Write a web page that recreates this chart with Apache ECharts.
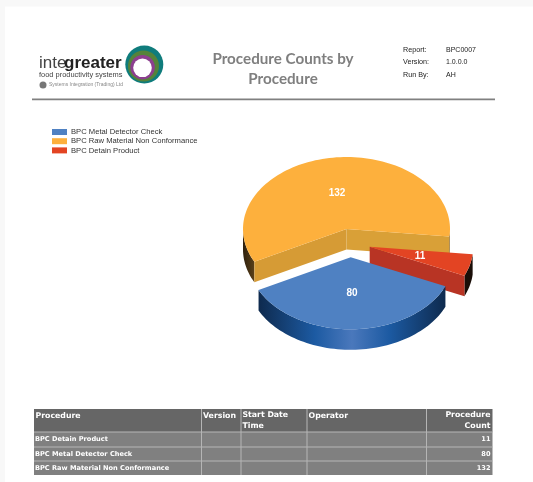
<!DOCTYPE html>
<html>
<head>
<meta charset="utf-8">
<style>html,body{margin:0;padding:0;background:#fff}#c{width:533px;height:482px;filter:blur(0.3px)}</style>
<script src="https://cdn.jsdelivr.net/npm/echarts@6/dist/echarts.min.js"></script>
</head>
<body>
<div id="c"></div>
<script>
const categories = ['BPC Metal Detector Check', 'BPC Raw Material Non Conformance', 'BPC Detain Product'];
const counts = [80, 132, 11];
const tableHeaders = ['Procedure', 'Version', 'Start Date\nTime', 'Operator', 'Procedure\nCount'];
const tableNames = ['BPC Detain Product', 'BPC Metal Detector Check', 'BPC Raw Material Non Conformance'];
const tableCounts = [11, 80, 132];
const reportLabels = ['Report:', 'Version:', 'Run By:'];
const reportValues = ['BPC0007', '1.0.0.0', 'AH'];

const total = counts.reduce((a, b) => a + b, 0);
const RX = 103.5, RY = 72, DEPTH = 20.5;
const START = 6; // degrees: the raw-material slice's right edge
const redSpan = counts[2] / total * 360, blueSpan = counts[0] / total * 360, orangeSpan = counts[1] / total * 360;
const spans = [
  [START + redSpan, START + redSpan + blueSpan],
  [START + redSpan + blueSpan, START + redSpan + blueSpan + orangeSpan],
  [START, START + redSpan]
];
const centers = [[350.7, 257.3], [346.5, 229], [369.7, 246.7]];
const faces = [
  { top: '#4F81C2', cut: '#3F6FAE', wall: null },
  { top: '#FDB03D', cut: '#D69B35', wall: '#3A2A12' },
  { top: '#E34423', cut: '#B83424', wall: '#1A0E08' }
];
const labelPos = [[352, 293], [337, 193], [420, 256]];

function arc(c, a0, a1, dy) {
  const pts = [], n = Math.max(2, Math.ceil(Math.abs(a1 - a0) / 2));
  for (let i = 0; i <= n; i++) {
    const t = (a0 + (a1 - a0) * i / n) * Math.PI / 180;
    pts.push([c[0] + RX * Math.cos(t), c[1] + RY * Math.sin(t) + dy]);
  }
  return pts;
}

function sliceRender(idx) {
  return function () {
    const c = centers[idx], f = faces[idx], a0 = spans[idx][0], a1 = spans[idx][1];
    const kids = [];
    const pt = (a, dy) => arc(c, a, a, dy)[0];
    const poly = (points, fill) => ({ type: 'polygon', shape: { points }, style: { fill }, silent: true });
    const visible = [];
    if (idx === 1) { visible.push([a0, 180], [360, a1]); }
    else visible.push([a0, a1]);
    visible.forEach(([w0, w1]) => {
      const top = arc(c, w0, w1, 0), bot = arc(c, w0, w1, DEPTH).reverse();
      let fill = f.wall;
      if (idx === 0) {
        fill = { type: 'linear', x: 0, y: 0, x2: 1, y2: 0, colorStops: [
          { offset: 0, color: '#0E2A4E' }, { offset: 0.3, color: '#1C5AA2' },
          { offset: 0.5, color: '#4A78BC' }, { offset: 0.7, color: '#1C5AA2' }, { offset: 1, color: '#0E2A4E' }
        ] };
      }
      if (idx === 1 && w0 > 100) {
        fill = { type: 'linear', x: 0, y: 0, x2: 1, y2: 0, colorStops: [
          { offset: 0, color: '#2E200E' }, { offset: 1, color: '#5A4018' }
        ] };
      }
      kids.push(poly(top.concat(bot), fill));
    });
    if (idx === 1) {
      const p0 = pt(a0, 0), p1 = pt(a1, 0);
      kids.push(poly([c, [c[0], c[1] + DEPTH], [p0[0], p0[1] + DEPTH], p0], f.cut));
      kids.push(poly([c, [c[0], c[1] + DEPTH], [p1[0], p1[1] + DEPTH], p1], '#D9A037'));
    }
    if (idx === 2) {
      const p1 = pt(a1, 0);
      kids.push(poly([c, [c[0], c[1] + DEPTH], [p1[0], p1[1] + DEPTH], p1], f.cut));
    }
    kids.push(poly([c].concat(arc(c, a0, a1, 0)), f.top));
    return { type: 'group', children: kids };
  };
}

const series = categories.map((name, i) => ({
  type: 'custom',
  name,
  coordinateSystem: 'none',
  data: [counts[i]],
  z: [3, 1, 2][i],
  itemStyle: { color: faces[i].top },
  renderItem: sliceRender(i),
  silent: true
}));

const g = [];
function txt(x, y, text, o) {
  g.push({ type: 'text', x, y, silent: true, z: 50, style: Object.assign({
    text, fontFamily: 'Liberation Sans', fontSize: 8, fill: '#222', textVerticalAlign: 'middle', verticalAlign: 'middle'
  }, o || {}) });
}
function rect(x, y, width, height, fill, z) {
  g.push({ type: 'rect', silent: true, z: z || 10, shape: { x, y, width, height }, style: { fill } });
}
function circle(cx, cy, r, fill) {
  g.push({ type: 'circle', silent: true, z: 11, shape: { cx, cy, r }, style: { fill } });
}

// page edge shading
rect(0, 0, 533, 6.5, '#F8F8F8', 1);
rect(0, 0, 5, 482, '#F8F8F8', 1);

// header rule
rect(32, 98.5, 463, 1.8, '#808080');

// logo
circle(144.3, 64.5, 19, '#0F7C7C');
circle(143.5, 66, 15.5, '#55833A');
circle(142.6, 67.2, 12.2, '#8C3F8F');
circle(142.5, 67.8, 9.3, '#FFFFFF');
txt(39, 63.5, 'inte', { fontSize: 17, fill: '#444' });
txt(64, 63.5, 'greater', { fontSize: 17, fontWeight: 'bold', fill: '#222' });
txt(39, 75, 'food productivity systems', { fontSize: 7.45, fill: '#444' });
circle(43, 85, 3.5, '#777');
txt(49, 85, 'Systems Integration (Trading) Ltd', { fontSize: 5, fill: '#888' });

// report block
const reportY = [50, 62, 75];
reportLabels.forEach((t, i) => {
  txt(403, reportY[i], t, { fontSize: 7.2 });
  txt(446, reportY[i], reportValues[i], { fontSize: 7 });
});

// slice labels
counts.forEach((v, i) => txt(labelPos[i][0], labelPos[i][1], String(v), {
  fontSize: 10, fontWeight: 'bold', fill: '#fff', align: 'center', textAlign: 'center'
}));

// table
const colX = [34, 201.5, 241, 307, 426.5, 492.5];
const rowY = [409, 432, 447, 461, 475];
rect(colX[0], rowY[0], colX[5] - colX[0], rowY[1] - rowY[0], '#666666');
rect(colX[0], rowY[1], colX[5] - colX[0], rowY[4] - rowY[1], '#808080');
for (let i = 1; i < 5; i++) rect(colX[i] - 0.5, rowY[0], 1, rowY[4] - rowY[0], '#B5B5B5', 12);
for (let i = 1; i < 4; i++) rect(colX[0], rowY[i] - 0.5, colX[5] - colX[0], 1, '#B5B5B5', 12);
const tf = { fontFamily: 'DejaVu Sans', fontWeight: 'bold', fill: '#fff' };
tableHeaders.forEach((h, i) => {
  const right = i === 4;
  txt(right ? colX[5] - 2 : colX[i] + 1.5, rowY[0] + (h.includes('\n') ? 11.5 : 6.5), h,
    Object.assign({}, tf, { fontSize: 7.8, lineHeight: 10.5, align: right ? 'right' : 'left', textAlign: right ? 'right' : 'left' }));
});
tableNames.forEach((n, i) => {
  const y = (rowY[i + 1] + rowY[i + 2]) / 2;
  txt(colX[0] + 1, y, n, Object.assign({}, tf, { fontSize: 6.6 }));
  txt(colX[5] - 2, y, String(tableCounts[i]), Object.assign({}, tf, { fontSize: 6.6, align: 'right', textAlign: 'right' }));
});

const chart = echarts.init(document.getElementById('c'), null, { renderer: 'canvas' });
chart.setOption({
  animation: false,
  backgroundColor: '#fff',
  tooltip: { show: false },
  title: {
    text: 'Procedure Counts by\nProcedure',
    left: 278, top: 43.5, textAlign: 'center',
    textStyle: { fontFamily: 'Lato', fontWeight: 'bold', fontSize: 15.2, lineHeight: 20.5, color: '#7F7F7F' }
  },
  legend: {
    data: categories, orient: 'vertical', left: 52, top: 128,
    itemWidth: 15, itemHeight: 6, itemGap: 1.2, icon: 'rect', selectedMode: false,
    textStyle: { fontFamily: 'Liberation Sans', fontSize: 7.65, color: '#333', padding: [0, 0, 0, -1] },
    padding: 0
  },
  graphic: g,
  series
});
</script>
</body>
</html>
